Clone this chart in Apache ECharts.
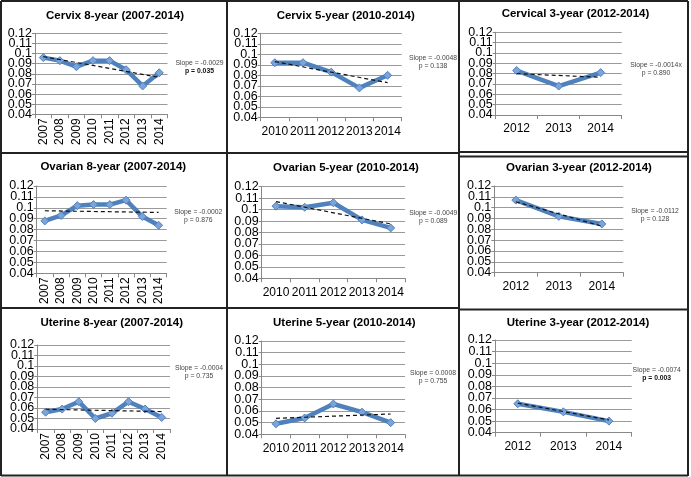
<!DOCTYPE html>
<html>
<head>
<meta charset="utf-8">
<script src="https://cdn.jsdelivr.net/npm/echarts@6/dist/echarts.min.js"></script>
<style>
html,body{margin:0;padding:0;background:#fff;}
#chart{width:691px;height:477px;}
</style>
</head>
<body>
<div id="chart"></div>
<script>
// ---- data ----
const years8 = ['2007','2008','2009','2010','2011','2012','2013','2014'];
const years5 = ['2010','2011','2012','2013','2014'];
const years3 = ['2012','2013','2014'];
const yTickLabels = ['0.04','0.05','0.06','0.07','0.08','0.09','0.1','0.11','0.12'];

const cervix8 = [0.096,0.093,0.087,0.093,0.093,0.084,0.068,0.081];
const cervix5 = [0.092,0.092,0.083,0.068,0.080];
const cervix3 = [0.083,0.068,0.081];
const ovarian8 = [0.088,0.093,0.102,0.103,0.103,0.107,0.092,0.084];
const ovarian5 = [0.103,0.102,0.106,0.091,0.084];
const ovarian3 = [0.107,0.092,0.085];
const uterine8 = [0.056,0.059,0.066,0.050,0.055,0.066,0.059,0.051];
const uterine5 = [0.049,0.054,0.066,0.059,0.050];
const uterine3 = [0.065,0.058,0.050];

// trend line end points (first year, last year)
const cervix8Trend = [0.097,0.0765];
const cervix5Trend = [0.093,0.073];
const cervix3Trend = [0.080,0.0765];
const ovarian8Trend = [0.0973,0.0958];
const ovarian5Trend = [0.107,0.0875];
const ovarian3Trend = [0.1055,0.083];
const uterine8Trend = [0.0588,0.0566];
const uterine5Trend = [0.0537,0.0574];
const uterine3Trend = [0.0655,0.051];

const titles = ['Cervix 8-year (2007-2014)','Cervix 5-year (2010-2014)','Cervical 3-year (2012-2014)',
  'Ovarian 8-year (2007-2014)','Ovarian 5-year (2010-2014)','Ovarian 3-year (2012-2014)',
  'Uterine 8-year (2007-2014)','Uterine 5-year (2010-2014)','Uterine 3-year (2012-2014)'];
const slopeTexts = ['Slope = -0.0029','Slope = -0.0048','Slope = -0.0014x',
  'Slope = -0.0002','Slope = -0.0049','Slope = -0.0112',
  'Slope = -0.0004','Slope = 0.0008','Slope = -0.0074'];
const pTexts = ['p = 0.035','p = 0.138','p = 0.890','p = 0.876','p = 0.089','p = 0.128','p = 0.735','p = 0.755','p = 0.003'];
const pBold = [true,false,false,false,false,false,false,false,true];

const panelCats = [years8,years5,years3,years8,years5,years3,years8,years5,years3];
const panelVals = [cervix8,cervix5,cervix3,ovarian8,ovarian5,ovarian3,uterine8,uterine5,uterine3];
const panelTrends = [cervix8Trend,cervix5Trend,cervix3Trend,ovarian8Trend,ovarian5Trend,ovarian3Trend,uterine8Trend,uterine5Trend,uterine3Trend];

// ---- layout ----
const grids = [
  {left:35, top:33.3, width:132.5, height:81},
  {left:260.7, top:33.3, width:141, height:84},
  {left:495.7, top:32.3, width:126, height:82.7},
  {left:36.7, top:186, width:130, height:87.3},
  {left:261.7, top:186.7, width:143.3, height:91.6},
  {left:494.3, top:186, width:129, height:86.7},
  {left:37.3, top:345, width:132.7, height:84},
  {left:261.7, top:341, width:143.3, height:93.3},
  {left:495, top:340, width:136.7, height:92.7}
];
const titlePos = [[115,15.7],[345.7,15.7],[575.5,13.5],[113.3,166.7],[346,168.3],[579,168.3],[111.7,323.3],[344.3,323.3],[578,323.3]];
const slopePos = [[199.5,62.7],[433,58.3],[656,65],[198.3,211.7],[433.3,212.7],[655,210.7],[199,368.3],[433,373.3],[656.7,370]];

const FONT = '"Liberation Sans", Arial, Helvetica, sans-serif';
const blue = '#4f81bd';
const lblIdx = v => Math.round(v*100)-4;

const option = {
  animation:false,
  backgroundColor:'#fff',
  grid: grids.map(g => Object.assign({containLabel:false}, g)),
  xAxis: panelCats.map((cats,i) => ({
    type:'category', gridIndex:i, data:cats, boundaryGap:true,
    axisLine:{show:true, lineStyle:{color:'#888', width:1}},
    axisTick:{show:true, length:4, lineStyle:{color:'#888'}},
    axisLabel:{color:'#000', fontFamily:FONT, fontSize:12, rotate: cats.length===8 ? 90 : 0, margin: cats.length===8 ? 4 : 8, interval:0},
    splitLine:{show:false}
  })),
  yAxis: [],
  series: [],
  graphic: []
};

// main y axes (even tick labels) — one per panel
panelCats.forEach((c,i) => {
  option.yAxis.push({
    type:'value', gridIndex:i, min:0.04, max:0.12, interval:0.01,
    axisLine:{show:true, lineStyle:{color:'#888', width:1}},
    axisTick:{show:true, length:3, lineStyle:{color:'#888'}},
    splitLine:{show:true, lineStyle:{color:'#9a9a9a', width:1}},
    axisLabel:{color:'#000', fontFamily:FONT, fontSize:12.5, margin:3,
      showMinLabel:true, showMaxLabel:true, hideOverlap:false,
      formatter: v => (lblIdx(v)%2===0 ? yTickLabels[lblIdx(v)] : '')}
  });
});
// companion y axes (odd tick labels) on same grids
panelCats.forEach((c,i) => {
  option.yAxis.push({
    type:'value', gridIndex:i, min:0.04, max:0.12, interval:0.01, position:'left',
    axisLine:{show:false}, axisTick:{show:false}, splitLine:{show:false},
    axisLabel:{color:'#000', fontFamily:FONT, fontSize:12.5, margin:3,
      showMinLabel:true, showMaxLabel:true, hideOverlap:false,
      formatter: v => (lblIdx(v)%2===1 ? yTickLabels[lblIdx(v)] : '')}
  });
});

panelVals.forEach((vals,i) => {
  option.series.push({
    type:'line', xAxisIndex:i, yAxisIndex:i, data:vals,
    lineStyle:{color:blue, width:4.5},
    itemStyle:{color:'#7ba4d8', borderColor:'#4f81bd', borderWidth:1},
    symbol:'diamond', symbolSize:8, z:2
  });
  const tr = panelTrends[i];
  const td = vals.map((v,k) => k===0 ? tr[0] : (k===vals.length-1 ? tr[1] : null));
  option.series.push({
    type:'line', xAxisIndex:i, yAxisIndex:i, data:td, connectNulls:true,
    lineStyle:{color:'#111', width:1.2, type:[4,3]},
    symbol:'none', z:3
  });
  option.graphic.push({
    type:'text', x:titlePos[i][0], y:titlePos[i][1],
    style:{text:titles[i], font:'bold 11.5px '+FONT, fill:'#000', textAlign:'center', textVerticalAlign:'middle'}
  });
  option.graphic.push({
    type:'text', x:slopePos[i][0], y:slopePos[i][1],
    style:{text:slopeTexts[i], font:'6.8px '+FONT, fill:'#444', textAlign:'center', textVerticalAlign:'middle'}
  });
  option.graphic.push({
    type:'text', x:slopePos[i][0], y:slopePos[i][1]+8,
    style:{text:pTexts[i], font:(pBold[i]?'bold ':'')+'6.8px '+FONT, fill:pBold[i]?'#111':'#444', textAlign:'center', textVerticalAlign:'middle'}
  });
});

// panel borders
const borderLines = [
  [1,1,1,476],[227,1,227,476],[459,1,459,476],[688,1,688,476],
  [1,1,459,1],[1,153,459,153],[1,308,459,308],[1,475.5,459,475.5],
  [459,1,688,1],[459,152,688,152],[459,156.5,688,156.5],[459,309.5,688,309.5],[459,475.5,688,475.5]
];
borderLines.forEach(l => option.graphic.push({
  type:'line', shape:{x1:l[0],y1:l[1],x2:l[2],y2:l[3]}, style:{stroke:'#222', lineWidth:2}, z:10
}));

const chart = echarts.init(document.getElementById('chart'), null, {renderer:'canvas'});
chart.setOption(option);
</script>
</body>
</html>
